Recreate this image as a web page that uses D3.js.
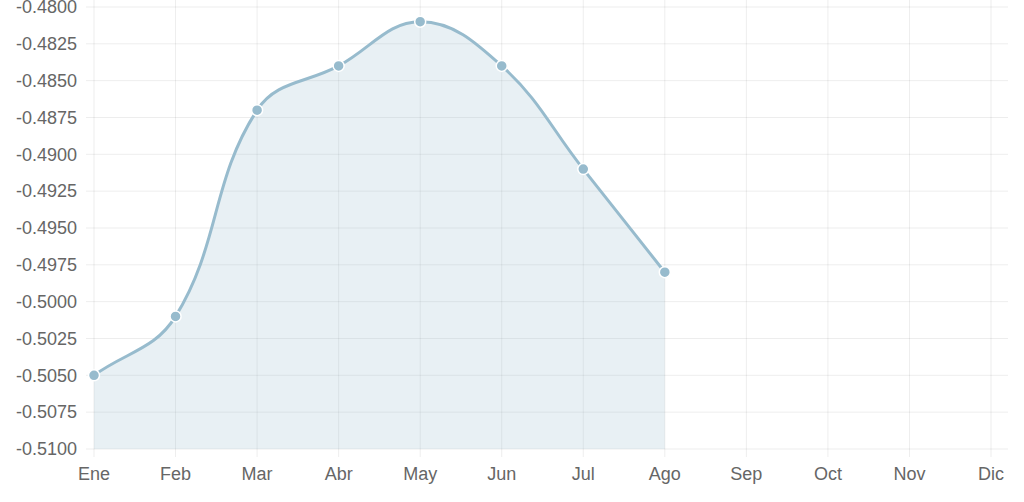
<!DOCTYPE html>
<html><head><meta charset="utf-8">
<script src="https://cdn.jsdelivr.net/npm/d3@7"></script>
<style>html,body{margin:0;padding:0;background:#fff;}svg{display:block;}</style>
</head><body>
<svg id="c" width="1024" height="502"></svg>
<script>
const months = ["Ene","Feb","Mar","Abr","May","Jun","Jul","Ago","Sep","Oct","Nov","Dic"];
const values = [-0.505,-0.501,-0.487,-0.484,-0.481,-0.484,-0.491,-0.498];
const yTicks = [-0.48,-0.4825,-0.485,-0.4875,-0.49,-0.4925,-0.495,-0.4975,-0.5,-0.5025,-0.505,-0.5075,-0.51];

(function(){
const svg = d3.select("#c");
const pLeft = 94, pRight = 991, pTop = 7, pBottom = 449;
const x = d3.scalePoint().domain(months).range([pLeft, pRight]);
const y = d3.scaleLinear().domain([-0.51, -0.48]).range([pBottom, pTop]);
const grid = "rgba(0,0,0,0.07)";
const font = "Liberation Sans, Arial, Helvetica, sans-serif";

svg.append("g").selectAll("line").data(yTicks).join("line")
  .attr("x1", pLeft - 8).attr("x2", 1008)
  .attr("y1", d => y(d)).attr("y2", d => y(d))
  .attr("stroke", grid).attr("stroke-width", 1);
svg.append("g").selectAll("line").data(months).join("line")
  .attr("x1", d => x(d)).attr("x2", d => x(d))
  .attr("y1", 0).attr("y2", pBottom + 8)
  .attr("stroke", grid).attr("stroke-width", 1);

svg.append("g").selectAll("text").data(yTicks).join("text")
  .attr("x", 77).attr("y", d => y(d)).attr("dy", "0.35em")
  .attr("text-anchor", "end").attr("fill", "#666")
  .style("font", `18px ${font}`)
  .text(d => d.toFixed(4));
svg.append("g").selectAll("text").data(months).join("text")
  .attr("x", d => x(d)).attr("y", 480)
  .attr("text-anchor", "middle").attr("fill", "#666")
  .style("font", `18px ${font}`)
  .text(d => d);

const pts = values.map((v, i) => ({x: x(months[i]), y: y(v)}));
const t = 0.4;
pts.forEach((p, i) => {
  const prev = pts[i - 1] || p, next = pts[i + 1] || p;
  const d01 = Math.hypot(p.x - prev.x, p.y - prev.y);
  const d12 = Math.hypot(next.x - p.x, next.y - p.y);
  let s01 = d01 / (d01 + d12), s12 = d12 / (d01 + d12);
  if (isNaN(s01)) s01 = 0; if (isNaN(s12)) s12 = 0;
  const fa = t * s01, fb = t * s12;
  p.cpPrev = {x: p.x - fa * (next.x - prev.x), y: p.y - fa * (next.y - prev.y)};
  p.cpNext = {x: p.x + fb * (next.x - prev.x), y: p.y + fb * (next.y - prev.y)};
  p.cpPrev.y = Math.max(pTop, Math.min(pBottom, p.cpPrev.y));
  p.cpNext.y = Math.max(pTop, Math.min(pBottom, p.cpNext.y));
});
function linePath(ctx) {
  ctx.moveTo(pts[0].x, pts[0].y);
  for (let i = 1; i < pts.length; i++) {
    const a = pts[i - 1], b = pts[i];
    ctx.bezierCurveTo(a.cpNext.x, a.cpNext.y, b.cpPrev.x, b.cpPrev.y, b.x, b.y);
  }
  return ctx;
}
const lp = linePath(d3.path());
const ap = linePath(d3.path());
ap.lineTo(pts[pts.length - 1].x, y(-0.51));
ap.lineTo(pts[0].x, y(-0.51));
ap.closePath();

svg.append("path").attr("d", ap.toString()).attr("fill", "rgba(151,187,205,0.22)");
svg.append("path").attr("d", lp.toString()).attr("fill", "none")
  .attr("stroke", "#97bbcd").attr("stroke-width", 3);

svg.append("g").selectAll("circle").data(values).join("circle")
  .attr("cx", (d, i) => x(months[i])).attr("cy", d => y(d))
  .attr("r", 5.5).attr("fill", "#97bbcd")
  .attr("stroke", "#fff").attr("stroke-width", 1.5);
})();
</script>
</body></html>
